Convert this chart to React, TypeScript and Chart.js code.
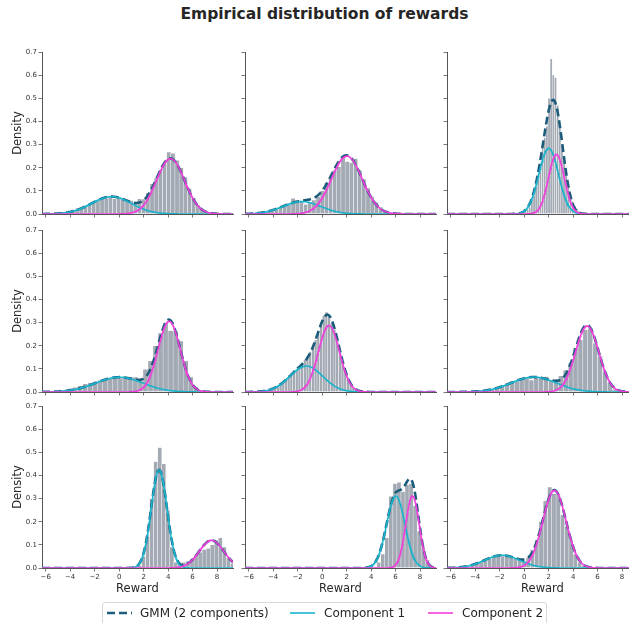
import React, { useEffect, useRef } from "react";
import { Chart, registerables } from "chart.js";

Chart.register(...registerables);

const FONT = "'DejaVu Sans', 'Liberation Sans', sans-serif";

// ---------- text ----------
const TITLE = "Empirical distribution of rewards";
const X_LABEL = "Reward";
const Y_LABEL = "Density";
const LEGEND_LABELS = ["GMM (2 components)", "Component 1", "Component 2"];

// ---------- axes ----------
const X_MIN = -6.3;
const X_MAX = 9.3;
const Y_MIN = 0;
const Y_MAX = 0.7;
const X_TICKS = [-6, -4, -2, 0, 2, 4, 6, 8];
const Y_TICKS = [0, 0.1, 0.2, 0.3, 0.4, 0.5, 0.6, 0.7];

// ---------- histograms (panels in row-major order) ----------
const BIN_START = [-5.3, -5.6, -0.5, -5.43, -4.6, -4.0, 1.5, 4.13, -5.09];
const BIN_WIDTH = [0.34, 0.34, 0.175, 0.41, 0.22, 0.4, 0.33, 0.33, 0.35];

const HIST_1 = [0.004, 0.005, 0.008, 0.012, 0.018, 0.024, 0.027, 0.034, 0.042, 0.05, 0.058, 0.064, 0.068, 0.072, 0.066, 0.07, 0.064, 0.062, 0.058, 0.05, 0.066, 0.065, 0.092, 0.13, 0.155, 0.19, 0.218, 0.268, 0.262, 0.232, 0.2, 0.16, 0.11, 0.07, 0.04, 0.022, 0.012, 0.006, 0.004, 0.002, 0.002];
const HIST_2 = [0.003, 0.004, 0.007, 0.01, 0.013, 0.02, 0.026, 0.034, 0.04, 0.068, 0.05, 0.055, 0.042, 0.05, 0.06, 0.075, 0.1, 0.135, 0.155, 0.19, 0.205, 0.25, 0.226, 0.222, 0.24, 0.19, 0.15, 0.112, 0.075, 0.05, 0.03, 0.015, 0.007, 0.004, 0.003, 0.002];
const HIST_3 = [0.002, 0.004, 0.008, 0.012, 0.02, 0.03, 0.055, 0.08, 0.12, 0.17, 0.22, 0.3, 0.33, 0.38, 0.5, 0.67, 0.6, 0.59, 0.47, 0.38, 0.3, 0.23, 0.17, 0.12, 0.085, 0.055, 0.035, 0.022, 0.012, 0.007, 0.004, 0.002];
const HIST_4 = [0.003, 0.006, 0.01, 0.015, 0.02, 0.027, 0.035, 0.04, 0.045, 0.05, 0.056, 0.06, 0.063, 0.06, 0.066, 0.066, 0.064, 0.058, 0.098, 0.135, 0.2, 0.255, 0.3, 0.265, 0.262, 0.22, 0.135, 0.065, 0.02, 0.006];
const HIST_5 = [0.006, 0.009, 0.013, 0.02, 0.024, 0.035, 0.04, 0.055, 0.062, 0.078, 0.095, 0.092, 0.105, 0.118, 0.14, 0.15, 0.175, 0.2, 0.225, 0.265, 0.3, 0.33, 0.345, 0.33, 0.3, 0.27, 0.235, 0.18, 0.135, 0.095, 0.06, 0.035, 0.02, 0.011, 0.005, 0.003, 0.001, 0.001];
const HIST_6 = [0.003, 0.006, 0.009, 0.013, 0.019, 0.027, 0.038, 0.046, 0.045, 0.055, 0.06, 0.052, 0.062, 0.06, 0.067, 0.05, 0.055, 0.07, 0.095, 0.125, 0.19, 0.225, 0.27, 0.275, 0.21, 0.155, 0.085, 0.04, 0.012];
const HIST_7 = [0.012, 0.05, 0.135, 0.3, 0.46, 0.52, 0.45, 0.25, 0.09, 0.025, 0.02, 0.025, 0.03, 0.04, 0.058, 0.068, 0.08, 0.085, 0.1, 0.12, 0.13, 0.09, 0.045, 0.02];
const HIST_8 = [0.005, 0.025, 0.06, 0.13, 0.31, 0.365, 0.37, 0.33, 0.36, 0.365, 0.27, 0.16, 0.09, 0.035, 0.008];
const HIST_9 = [0.003, 0.006, 0.012, 0.018, 0.024, 0.032, 0.04, 0.047, 0.05, 0.052, 0.052, 0.045, 0.04, 0.035, 0.03, 0.045, 0.08, 0.12, 0.2, 0.29, 0.35, 0.32, 0.32, 0.23, 0.18, 0.12, 0.06, 0.025, 0.01, 0.003];
const HISTS = [HIST_1, HIST_2, HIST_3, HIST_4, HIST_5, HIST_6, HIST_7, HIST_8, HIST_9];

// ---------- fitted 2-component GMM parameters ----------
const COMP1_MEAN = [-0.63, -1.67, 2.0, 0.0, -1.3, 0.78, 3.26, 6.01, -1.81];
const COMP1_SD = [1.65, 1.56, 0.8, 1.93, 1.35, 1.85, 0.65, 0.75, 1.45];
const COMP1_WEIGHT = [0.31, 0.21, 0.57, 0.31, 0.38, 0.3, 0.69, 0.585, 0.2];
const COMP2_MEAN = [4.19, 2.01, 2.63, 4.08, 0.55, 5.14, 7.54, 7.37, 2.47];
const COMP2_SD = [1.15, 1.26, 0.65, 0.9, 0.86, 0.95, 1.0, 0.55, 0.95];
const COMP2_WEIGHT = [0.69, 0.79, 0.42, 0.69, 0.62, 0.68, 0.3, 0.43, 0.8];
const CURVE_STEP = 0.04;

// ---------- styles ----------
const GMM_COLOR = "#1d5d7c";
const C1_COLOR = "#19b3cc";
const C2_COLOR = "#f03fdc";
const BAR_COLOR = "#a3aab4";
const AXIS_COLOR = "#555";
const TEXT_COLOR = "#262626";

// ---------- layout ----------
const PLOT_LEFT = [42, 245, 447];
const PLOT_TOP = [52, 230, 406];
const PW = 191;
const PH = 162;
const YW = 42;
const RP = 4;
const TP = 8;
const XH = 28;
const CW = YW + PW + RP;
const CH = TP + PH + XH;

function gaussian(x: number, m: number, s: number, w: number) {
  return (w * Math.exp(-0.5 * ((x - m) / s) * ((x - m) / s))) / (s * Math.sqrt(2 * Math.PI));
}

function Panel({ idx }: { idx: number }) {
  const ref = useRef<HTMLCanvasElement | null>(null);
  const row = Math.floor(idx / 3);
  const col = idx % 3;

  useEffect(() => {
    if (!ref.current) return;
    const bars = HISTS[idx].map((h, i) => ({ x: BIN_START[idx] + (i + 0.5) * BIN_WIDTH[idx], y: h }));
    const xs: number[] = [];
    const n = Math.round((X_MAX - X_MIN) / CURVE_STEP);
    for (let k = 0; k <= n; k++) xs.push(X_MIN + k * CURVE_STEP);
    const c1 = xs.map((x) => ({ x, y: gaussian(x, COMP1_MEAN[idx], COMP1_SD[idx], COMP1_WEIGHT[idx]) }));
    const c2 = xs.map((x) => ({ x, y: gaussian(x, COMP2_MEAN[idx], COMP2_SD[idx], COMP2_WEIGHT[idx]) }));
    const gmm = xs.map((x, i) => ({ x, y: c1[i].y + c2[i].y }));

    const zeroPad = (s: any) => {
      s.paddingLeft = 0;
      s.paddingRight = 0;
      s.paddingTop = 0;
      s.paddingBottom = 0;
    };

    const chart = new Chart(ref.current, {
      type: "bar",
      data: {
        datasets: [
          { type: "line", label: LEGEND_LABELS[2], data: c2, borderColor: C2_COLOR, borderWidth: 1.6, pointRadius: 0, fill: false, order: 0 } as any,
          { type: "line", label: LEGEND_LABELS[1], data: c1, borderColor: C1_COLOR, borderWidth: 1.6, pointRadius: 0, fill: false, order: 1 } as any,
          { type: "line", label: LEGEND_LABELS[0], data: gmm, borderColor: GMM_COLOR, borderWidth: 2.6, borderDash: [8, 4], pointRadius: 0, fill: false, order: 2 } as any,
          { type: "bar", label: "Rewards", data: bars, backgroundColor: BAR_COLOR, borderColor: "#ffffff", borderWidth: 0.5, barPercentage: 1, categoryPercentage: 1, order: 3 } as any,
        ],
      },
      options: {
        responsive: false,
        maintainAspectRatio: false,
        animation: false,
        events: [],
        layout: { padding: { top: TP, right: RP, bottom: 0, left: 0 } },
        plugins: { legend: { display: false }, tooltip: { enabled: false }, title: { display: false } },
        scales: {
          x: {
            type: "linear",
            min: X_MIN,
            max: X_MAX,
            bounds: "data",
            offset: false,
            afterBuildTicks: (s: any) => {
              s.ticks = X_TICKS.map((v) => ({ value: v }));
            },
            afterFit: (s: any) => {
              s.height = XH;
              zeroPad(s);
            },
            grid: { display: true, drawOnChartArea: false, drawTicks: true, tickLength: 3.5, tickColor: AXIS_COLOR, tickWidth: 0.8, offset: false },
            border: { display: true, color: AXIS_COLOR, width: 1 },
            ticks: {
              autoSkip: false,
              maxRotation: 0,
              padding: 1.5,
              color: "#333",
              font: { family: FONT, size: 7 },
              callback: (v: any) => (row === 2 ? String(v).replace("-", "\u2212") : ""),
            },
            title: { display: row === 2, text: X_LABEL, color: TEXT_COLOR, font: { family: FONT, size: 11.5 }, padding: { top: 0, bottom: 0 } },
          },
          y: {
            type: "linear",
            min: Y_MIN,
            max: Y_MAX,
            bounds: "data",
            afterBuildTicks: (s: any) => {
              s.ticks = Y_TICKS.map((v) => ({ value: v }));
            },
            afterFit: (s: any) => {
              s.width = YW;
              zeroPad(s);
            },
            grid: { display: true, drawOnChartArea: false, drawTicks: true, tickLength: 3.5, tickColor: AXIS_COLOR, tickWidth: 0.8 },
            border: { display: true, color: AXIS_COLOR, width: 1 },
            ticks: {
              autoSkip: false,
              padding: 1.5,
              color: "#333",
              font: { family: FONT, size: 7 },
              callback: (v: any) => (col === 0 ? Number(v).toFixed(1) : ""),
            },
            title: { display: col === 0, text: Y_LABEL, color: TEXT_COLOR, font: { family: FONT, size: 11.5 }, padding: { top: 11.4, bottom: 0 } },
          },
        },
      } as any,
    });
    return () => chart.destroy();
  }, [idx, row, col]);

  return (
    <canvas
      ref={ref}
      width={CW}
      height={CH}
      style={{ position: "absolute", left: PLOT_LEFT[col] - YW, top: PLOT_TOP[row] - TP, width: CW, height: CH }}
    />
  );
}

function LegendLine({ x, dashed, color }: { x: number; dashed: boolean; color: string }) {
  return (
    <svg style={{ position: "absolute", left: x, top: 606, width: 25, height: 14 }} width={25} height={14}>
      <line
        x1={0}
        y1={7}
        x2={25}
        y2={7}
        stroke={color}
        strokeWidth={dashed ? 2.6 : 1.6}
        strokeDasharray={dashed ? "8 4" : undefined}
      />
    </svg>
  );
}

function LegendText({ x, text }: { x: number; text: string }) {
  return (
    <div style={{ position: "absolute", left: x, top: 606, fontSize: 12, lineHeight: "14px", color: TEXT_COLOR, whiteSpace: "nowrap" }}>
      {text}
    </div>
  );
}

export default function App() {
  return (
    <div
      style={{
        position: "fixed",
        left: 0,
        top: 0,
        width: 629,
        height: 623,
        overflow: "hidden",
        background: "#ffffff",
        fontFamily: FONT,
      }}
    >
      <div
        style={{
          position: "absolute",
          left: 0,
          top: 5,
          width: 649,
          textAlign: "center",
          fontWeight: "bold",
          fontSize: 15.5,
          lineHeight: "18px",
          color: TEXT_COLOR,
        }}
      >
        {TITLE}
      </div>
      {[0, 1, 2, 3, 4, 5, 6, 7, 8].map((i) => (
        <Panel key={i} idx={i} />
      ))}
      <div
        style={{
          position: "absolute",
          left: 102,
          top: 602,
          width: 445,
          height: 28,
          border: "1px solid #d8d8d8",
          borderRadius: 3,
          background: "#ffffff",
          boxSizing: "border-box",
        }}
      />
      <LegendLine x={107} dashed={true} color={GMM_COLOR} />
      <LegendText x={140} text={LEGEND_LABELS[0]} />
      <LegendLine x={290} dashed={false} color={C1_COLOR} />
      <LegendText x={324} text={LEGEND_LABELS[1]} />
      <LegendLine x={428} dashed={false} color={C2_COLOR} />
      <LegendText x={462} text={LEGEND_LABELS[2]} />
    </div>
  );
}
